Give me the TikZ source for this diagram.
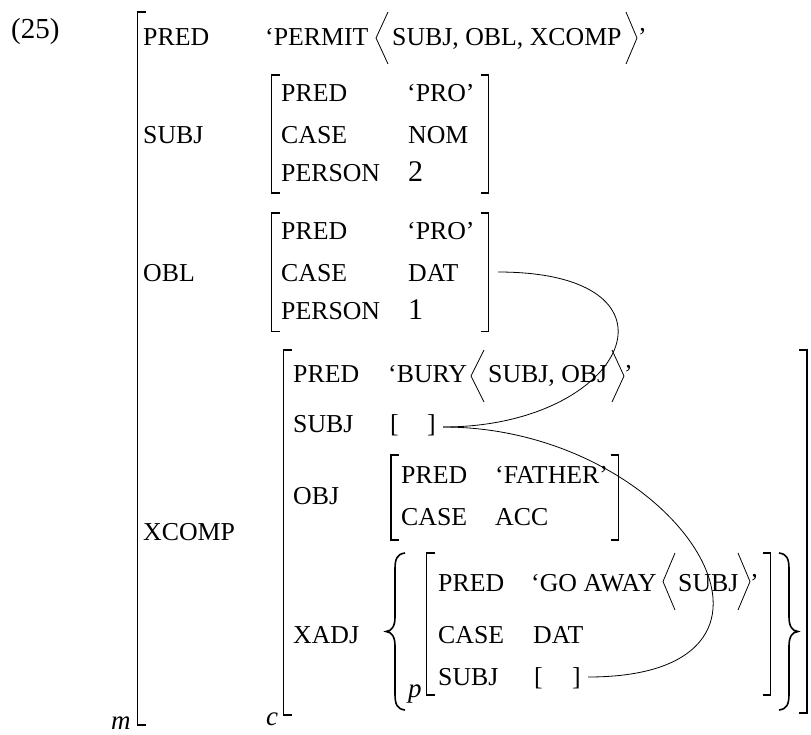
\documentclass[tikz,border=0pt]{standalone}
\usepackage{fontspec}
\setmainfont{Liberation Serif}
\newcommand\fslb[3]{\draw[brk] (#1,#2) ++(8,0) -- ++(-8,0) -- (#1,#3) -- ++(8,0);}
\newcommand\fsrb[3]{\draw[brk] (#1,#2) ++(-8,0) -- ++(8,0) -- (#1,#3) -- ++(-8,0);}
\begin{document}
\begin{tikzpicture}[x=1pt,y=-1pt,
  lab/.style={anchor=base west, inner sep=0pt, font=\fontsize{25.8}{25.8}\selectfont},
  num/.style={anchor=base west, inner sep=0pt, font=\fontsize{30}{30}\selectfont},
  ital/.style={anchor=base west, inner sep=0pt, font=\fontsize{27}{27}\selectfont\itshape},
  brk/.style={line width=1.4pt},
  ang/.style={line width=0.8pt},
  brace/.style={line width=1.6pt},
  link/.style={line width=0.8pt}]
\useasboundingbox (0,0) rectangle (811,734);
% example number
\node[lab, font=\fontsize{29}{29}\selectfont] (ex) at (11,38) {(25)};
% outer f-structure
\fslb{137.5}{12}{725}
\node[ital] (m) at (111,729) {m};
\node[lab] (pred0) at (143,45) {PRED};
\node[lab] (permit) at (265,45) {‘PERMIT};
\draw[ang] (388,12) -- (376,38) -- (388,64);
\node[lab] (permitargs) at (392,45) {SUBJ, OBL, XCOMP};
\draw[ang] (626,12) -- (637,38) -- (626,64);
\node[lab] (permitq) at (638,45) {’};
% SUBJ
\node[lab] (subj0) at (143,143) {SUBJ};
\fslb{271.5}{75}{193}
\fsrb{488.5}{75}{193}
\node[lab] (s-pred) at (281,101.7) {PRED};
\node[lab] (s-predv) at (407,101.7) {‘PRO’};
\node[lab] (s-case) at (281,143.3) {CASE};
\node[lab] (s-casev) at (408,143.3) {NOM};
\node[lab] (s-pers) at (281,181.7) {PERSON};
\node[num] (s-persv) at (408,181.7) {2};
% OBL
\node[lab] (obl0) at (143,281.3) {OBL};
\fslb{271.5}{213}{331.7}
\fsrb{488.5}{213}{331.7}
\node[lab] (o-pred) at (281,239.7) {PRED};
\node[lab] (o-predv) at (407,239.7) {‘PRO’};
\node[lab] (o-case) at (281,281.3) {CASE};
\node[lab] (o-casev) at (408,281.3) {DAT};
\node[lab] (o-pers) at (281,319.7) {PERSON};
\node[num] (o-persv) at (408,319.7) {1};
% XCOMP
\node[lab] (xcomp0) at (143,540) {XCOMP};
\fslb{283.5}{350}{715}
\fsrb{807}{350}{713}
\node[ital] (c) at (266,725) {c};
\node[lab] (x-pred) at (293,382) {PRED};
\node[lab] (bury) at (388,382) {‘BURY};
\draw[ang] (484,350) -- (471,376) -- (484,402);
\node[lab] (buryargs) at (488,382) {SUBJ, OBJ};
\draw[ang] (612,350) -- (624,376) -- (612,402);
\node[lab] (buryq) at (624,382) {’};
\node[lab] (x-subj) at (293,432) {SUBJ};
\node[lab] (x-subjl) at (390,432) {[};
\node[lab] (x-subjr) at (427,432) {]};
\node[lab] (x-obj) at (293,504) {OBJ};
\fslb{391}{455}{540}
\fsrb{618.5}{455}{540}
\node[lab] (ob-pred) at (401,483.3) {PRED};
\node[lab] (ob-predv) at (495,483.3) {‘FATHER’};
\node[lab] (ob-case) at (401,525) {CASE};
\node[lab] (ob-casev) at (495,525) {ACC};
% XADJ
\node[lab] (x-xadj) at (293,643) {XADJ};
\draw[brace] (405,553) .. controls (397,554) and (395,559) .. (395,569) -- (395,617)
  .. controls (395,626) and (392,631) .. (386,631.5)
  .. controls (392,632) and (395,637) .. (395,646) -- (395,694)
  .. controls (395,704) and (397,709) .. (405,710);
\draw[brace] (779,553) .. controls (787,554) and (789,559) .. (789,569) -- (789,617)
  .. controls (789,626) and (792,631) .. (798,631.5)
  .. controls (792,632) and (789,637) .. (789,646) -- (789,694)
  .. controls (789,704) and (787,709) .. (779,710);
\node[ital] (p) at (408,697) {p};
\fslb{426.5}{553}{695}
\fsrb{770.5}{553}{695}
\node[lab] (a-pred) at (438,591.7) {PRED};
\node[lab] (goaway) at (531,591.7) {‘GO AWAY};
\draw[ang] (675,553) -- (663,581.5) -- (675,610);
\node[lab] (goawayargs) at (678,591.7) {SUBJ};
\draw[ang] (738,553) -- (750,581.5) -- (738,610);
\node[lab] (goawayq) at (750,591.7) {’};
\node[lab] (a-case) at (438,643.3) {CASE};
\node[lab] (a-casev) at (533,643.3) {DAT};
\node[lab] (a-subj) at (438,685) {SUBJ};
\node[lab] (a-subjl) at (534,685) {[};
\node[lab] (a-subjr) at (572,685) {]};
% control links
\coordinate (oblend) at (498,272);
\coordinate (xsubjend) at (443,427);
\coordinate (adjsubjend) at (588,677);
\draw[link] (oblend) .. controls (697,272) and (628,427) .. (xsubjend);
\draw[link] (xsubjend) .. controls (681,427) and (834,677) .. (adjsubjend);
\end{tikzpicture}
\end{document}
